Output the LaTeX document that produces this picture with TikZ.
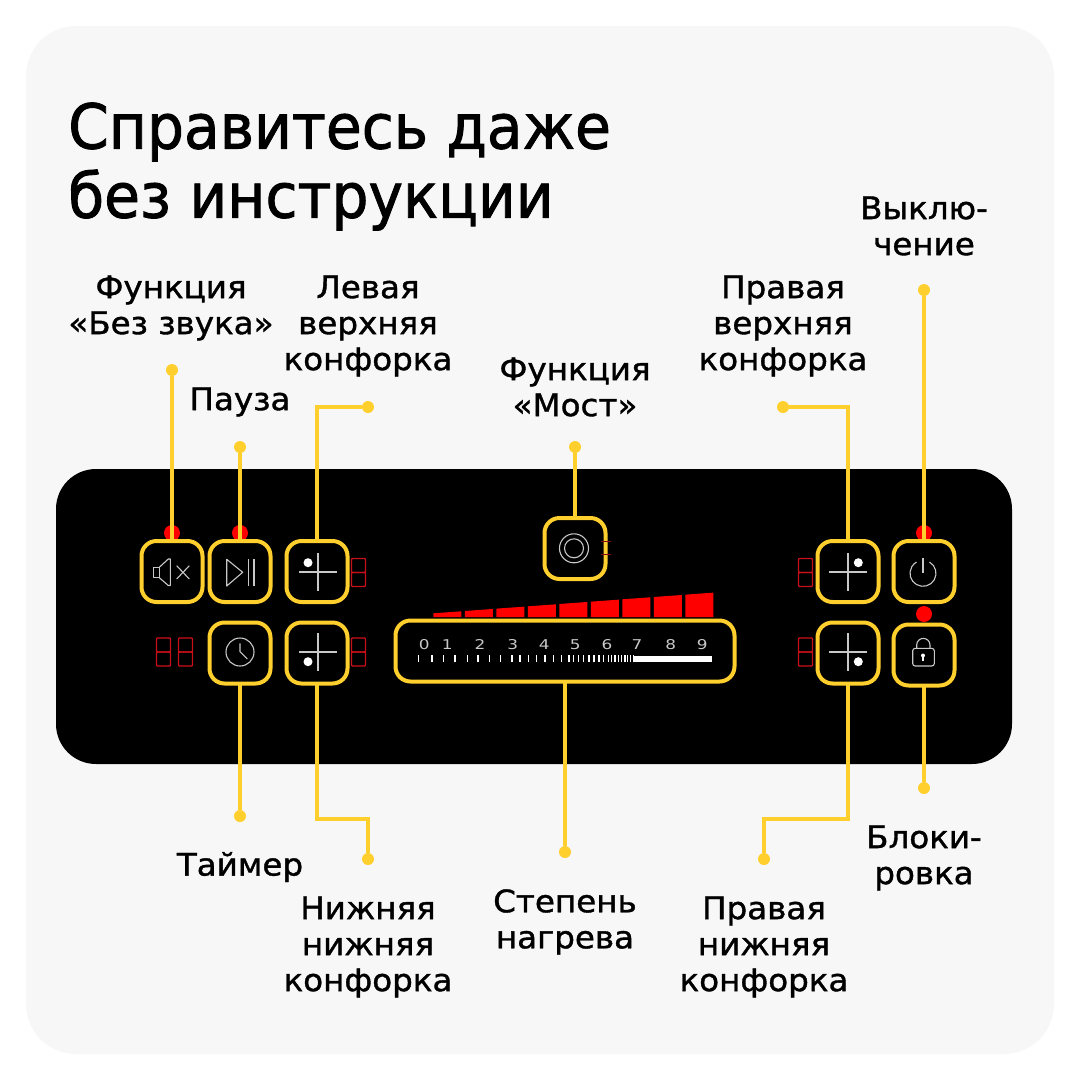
\documentclass[tikz,border=0pt]{standalone}
\usepackage{fontspec}
\setmainfont{DejaVu Sans}
\newfontfamily\ttlfont[FakeStretch=0.94,FakeBold=1.4]{DejaVu Sans}
\newfontfamily\lblfont[FakeStretch=1.05,FakeBold=1.2]{DejaVu Sans}
\newfontfamily\numfont[FakeStretch=1.25]{DejaVu Sans}
\definecolor{cardbg}{HTML}{F7F7F7}
\definecolor{ylw}{HTML}{FFCF2E}
\definecolor{ledred}{HTML}{FF0000}
\definecolor{segred}{HTML}{C8101A}
\definecolor{icon}{HTML}{C8C8C8}
\tikzset{
  btn/.style={draw=ylw,line width=4pt,fill=black,rounded corners=15pt,minimum width=61pt,minimum height=61pt,outer sep=0pt,inner sep=0pt},
  wire/.style={draw=ylw,line width=3.6pt},
  wdot/.style={circle,fill=ylw,minimum size=12pt,inner sep=0pt,outer sep=0pt},
  reddot/.style={circle,fill=ledred,minimum size=16pt,inner sep=0pt},
  lbl/.style={align=center,text=black,font=\lblfont\fontsize{31}{36}\selectfont,inner sep=0pt},
  ttl/.style={anchor=west,text=black,font=\ttlfont\fontsize{62}{68}\selectfont,inner sep=0pt},
  ico/.style={draw=icon,line width=1.1pt,line join=round},
  seg/.style={draw=segred,line width=1.4pt,rounded corners=0.8pt},
  num/.style={text=icon,font=\numfont\fontsize{13.5}{14}\selectfont,inner sep=0pt}
}
\newcommand{\digitseg}[2]{%
  \draw[seg] (#1,#2) rectangle ++(14,14);
  \draw[seg] (#1,#2+14) rectangle ++(14,14);
}
\begin{document}
\begin{tikzpicture}[x=1pt,y=-1pt]
\useasboundingbox (0,0) rectangle (1080,1080);
\fill[white] (0,0) rectangle (1080,1080);
\fill[cardbg,rounded corners=50pt] (26,26) rectangle (1054,1054);
\fill[black,rounded corners=40pt] (56,469) rectangle (1012,764);
% title
\node[ttl] (t1) at (68,132) {Справитесь даже};
\node[ttl] (t2) at (68,200) {без инструкции};
% red indicators
\node[reddot] (r1) at (172,533) {};
\node[reddot] (r2) at (240,533) {};
\node[reddot] (r3) at (924,533) {};
\node[reddot] (r4) at (924,614) {};
% bars
\foreach \i in {0,...,8}{
  \pgfmathsetmacro{\xa}{433.3+31.5*\i}
  \pgfmathsetmacro{\xb}{\xa+28}
  \pgfmathsetmacro{\ya}{613.3-2.33*\i}
  \pgfmathsetmacro{\yb}{\ya-2}
  \fill[ledred] (\xa,617) -- (\xa,\ya) -- (\xb,\yb) -- (\xb,617) -- cycle;
}
% buttons
\node[btn] (mute) at (172,571.5) {};
\node[btn] (pause) at (240,571.5) {};
\node[btn] (lu) at (317,571.5) {};
\node[btn] (timer) at (240,653) {};
\node[btn] (ld) at (317,653) {};
\node[btn] (bridge) at (575,548.5) {};
\node[btn,minimum width=339pt] (heat) at (565,651) {};
\node[btn] (ru) at (848,571.5) {};
\node[btn] (rd) at (848,653) {};
\node[btn] (pwr) at (924,571.5) {};
\node[btn] (lock) at (924,655) {};
% wire ends
\node[wdot] (dmute) at (172,370) {};
\node[wdot] (dpause) at (240,447) {};
\node[wdot] (dlu) at (368,407) {};
\node[wdot] (dbridge) at (575,447) {};
\node[wdot] (dru) at (783,407) {};
\node[wdot] (dpwr) at (924,290) {};
\node[wdot] (dtimer) at (240,816) {};
\node[wdot] (dld) at (368,859) {};
\node[wdot] (dheat) at (565,852) {};
\node[wdot] (drd) at (764,859) {};
\node[wdot] (dlock) at (924,788) {};
\coordinate (kld) at (368,819);
\coordinate (krd) at (764,819);
\draw[wire] (mute.north) -- (dmute);
\draw[wire] (pause.north) -- (dpause);
\draw[wire] (lu.north) |- (dlu);
\draw[wire] (bridge.north) -- (dbridge);
\draw[wire] (ru.north) |- (dru);
\draw[wire] (pwr.north) -- (dpwr);
\draw[wire] (timer.south) -- (dtimer);
\draw[wire] (ld.south) |- (kld) -- (dld);
\draw[wire] (heat.south) -- (dheat);
\draw[wire] (rd.south) |- (krd) -- (drd);
\draw[wire] (lock.south) -- (dlock);
% icons
\draw[ico] (153.3,567.3) rectangle (159.3,577.7);
\draw[ico] (159.3,567.3) -- (168.3,559) -- (170.3,559) -- (170.3,585.5) -- (168.3,585.5) -- (159.3,577.7);
\draw[ico] (176.7,565.7) -- (189.3,579) (189.3,565.7) -- (176.7,579);
\draw[ico] (226.7,559.3) -- (242.7,572.3) -- (226.7,586) -- cycle;
\draw[ico] (248.3,559.3) -- (248.3,586) (254,559.3) -- (254,586);
\draw[ico] (299.3,572) -- (336.7,572) (318,553.3) -- (318,590.7);
\fill[white] (308,562.7) circle[radius=4.5pt];
\draw[ico] (299.3,652) -- (336.7,652) (318,633.3) -- (318,670.7);
\fill[white] (308,661.7) circle[radius=4.5pt];
\draw[ico] (240,652) circle[radius=14pt];
\draw[ico] (240,643.3) -- (240,651.7) -- (247.3,659);
\draw[ico] (574,548.3) circle[radius=14.5pt];
\draw[ico] (574,548.3) circle[radius=9.5pt];
\draw[ico] (829.3,572) -- (866.7,572) (848,553.3) -- (848,590.7);
\fill[white] (858.3,562.7) circle[radius=4.5pt];
\draw[ico] (829.3,652) -- (866.7,652) (848,633.3) -- (848,670.7);
\fill[white] (858.3,661.7) circle[radius=4.5pt];
\draw[ico] (923,573.3) ++(60:13pt) arc[start angle=60,end angle=-240,radius=13pt];
\draw[ico] (923,558.3) -- (923,572.7);
\draw[ico,rounded corners=2.5pt] (912.7,648.3) rectangle (934.3,666);
\draw[ico] (916.7,648.3) -- (916.7,645) arc[start angle=180,end angle=0,radius=6.65pt] -- (930,648.3);
\fill[white] (923,655.5) circle[radius=2pt];
\fill[white] (922.1,655.5) rectangle (923.9,661);
% seven-segment
\digitseg{351.5}{558.5}
\digitseg{351.5}{638}
\digitseg{156.5}{638}
\digitseg{178.5}{638}
\digitseg{798.5}{558.5}
\digitseg{798.5}{638}
\draw[segred!70!black,line width=1pt] (601,541) -- (611,541) (601,554) -- (611,554);
% scale
\foreach \d/\zx in {0/103,1/172,2/270,3/368,4/463,5/556,6/651,7/741,8/842,9/937}{
  \pgfmathsetmacro{\px}{390+\zx/3}
  \node[num] (n\d) at (\px,644.7) {\d};
}
\foreach \zx in {86,126,160,195,232,264,298,332,366,390,416,440,465,490,515,537,550,565,580,597,612,627,640,655,665,675,685,695,705,713,722,730}{
  \pgfmathsetmacro{\px}{390+\zx/3}
  \draw[white,line width=1.2pt] (\px,655.3) -- (\px,662);
}
\fill[white] (634,655.6) rectangle (711.7,661.6);
% labels
\node[lbl] (a) at (171,308) {Функция\\«Без звука»};
\node[lbl] (b) at (240,402) {Пауза};
\node[lbl] (c) at (368,326) {Левая\\верхняя\\конфорка};
\node[lbl] (d) at (575,387) {Функция\\«Мост»};
\node[lbl] (e) at (783,326) {Правая\\верхняя\\конфорка};
\node[lbl] (f) at (924,226) {Выклю-\\чение};
\node[lbl] (g) at (240,867) {Таймер};
\node[lbl] (h) at (368,947) {Нижняя\\нижняя\\конфорка};
\node[lbl] (i) at (565,922) {Степень\\нагрева};
\node[lbl] (j) at (764,947) {Правая\\нижняя\\конфорка};
\node[lbl] (k) at (924,858) {Блоки-\\ровка};
\end{tikzpicture}
\end{document}
